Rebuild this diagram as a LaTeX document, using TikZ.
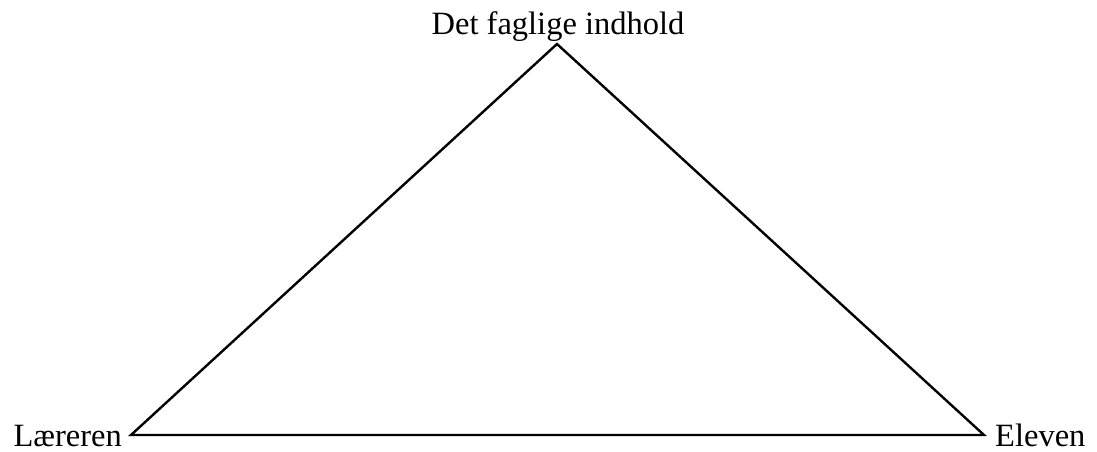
\documentclass[tikz,border=0pt]{standalone}
\usepackage{fontspec}
\setmainfont{Liberation Serif}
\begin{document}
\begin{tikzpicture}[x=1pt,y=-1pt,
  lbl/.style={font=\fontsize{32.5}{38}\selectfont, inner sep=0pt},
  edge/.style={line width=2.4pt, line join=miter}]
\useasboundingbox (0,0) rectangle (1097,452);
\coordinate (top) at (557,44);
\coordinate (left) at (131,435);
\coordinate (right) at (984,435);
\draw[edge] (top) -- (right) -- (left) -- cycle;
\node[lbl, anchor=base] (tl) at (558,35) {Det faglige indhold};
\node[lbl, anchor=base east] (ll) at (122,446) {Læreren};
\node[lbl, anchor=base west] (rl) at (995,446) {Eleven};
\end{tikzpicture}
\end{document}
